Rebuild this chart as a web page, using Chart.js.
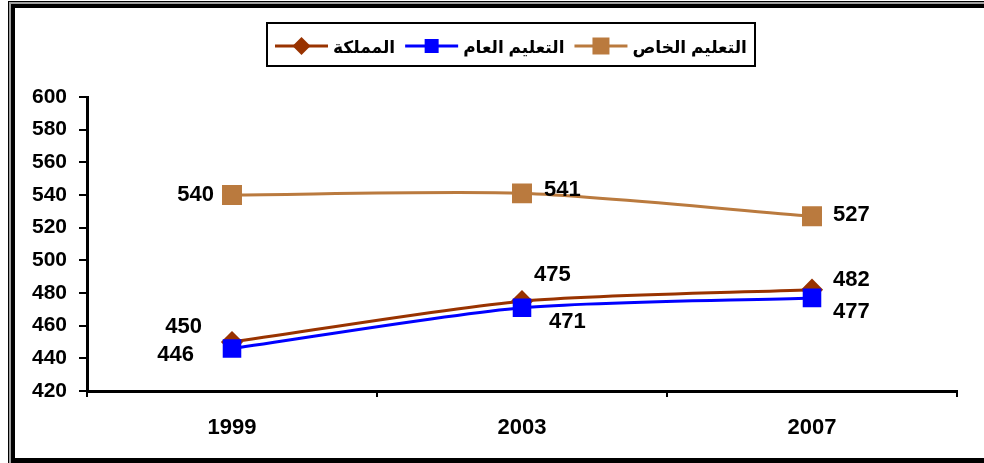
<!DOCTYPE html>
<html>
<head>
<meta charset="utf-8">
<script src="https://cdn.jsdelivr.net/npm/chart.js@4/dist/chart.umd.min.js"></script>
<style>
  html, body { margin: 0; padding: 0; background: #fff; }
  #wrap { width: 984px; height: 463px; position: relative; }
</style>
</head>
<body>
<div id="wrap"><canvas id="c" width="984" height="463"></canvas></div>
<script>
// data
const years = ['1999', '2003', '2007'];
const privateVals = [540, 541, 527];   // التعليم الخاص
const publicVals = [446, 471, 477];    // التعليم العام
const kingdomVals = [450, 475, 482];   // المملكة
const yMin = 420, yMax = 600, yStep = 20;

const FONT = '"Liberation Sans", "DejaVu Sans", Arial, sans-serif';

// frame round the picture
const framePlugin = {
  id: 'frame',
  beforeDraw(chart) {
    const ctx = chart.ctx;
    ctx.save();
    ctx.fillStyle = '#000'; ctx.fillRect(8, 1, 1000, 470);
    ctx.fillStyle = '#a0a0a0'; ctx.fillRect(9, 2, 1000, 470);
    ctx.fillStyle = '#000'; ctx.fillRect(11, 4, 1000, 470);
    ctx.fillStyle = '#fff'; ctx.fillRect(15, 8, 1000, 450);
    ctx.restore();
  }
};

// marker helper (legend)
function drawMarker(ctx, style, x, y, r, color) {
  ctx.fillStyle = color;
  ctx.beginPath();
  if (style === 'rectRot') {
    ctx.moveTo(x, y - r); ctx.lineTo(x + r, y); ctx.lineTo(x, y + r); ctx.lineTo(x - r, y);
  } else {
    ctx.rect(x - r, y - r, 2 * r, 2 * r);
  }
  ctx.closePath();
  ctx.fill();
}

// boxed legend, items laid right to left
const legendPlugin = {
  id: 'boxLegend',
  afterDraw(chart) {
    const ctx = chart.ctx;
    ctx.save();
    ctx.font = 'bold 17px ' + FONT;
    const lineW = 53, gapTxt = 5, gapItem = 10, pad = 8;
    const items = chart.data.datasets.map(ds => ({ ds, w: ctx.measureText(ds.label).width }));
    let total = pad * 2;
    items.forEach((it, i) => { total += it.w + gapTxt + lineW + (i < items.length - 1 ? gapItem : 0); });
    const cx = 511, top = 23, h = 43, cy = 46;
    const left = Math.round(cx - total / 2);
    ctx.strokeStyle = '#000'; ctx.lineWidth = 2;
    ctx.strokeRect(left, top, Math.round(total), h);
    let x = left + total - pad;
    ctx.textAlign = 'right'; ctx.textBaseline = 'middle';
    items.forEach(it => {
      ctx.fillStyle = '#000';
      ctx.fillText(it.ds.label, x, cy + 2);
      x -= it.w + gapTxt;
      ctx.strokeStyle = it.ds.borderColor; ctx.lineWidth = 3;
      ctx.beginPath(); ctx.moveTo(x, cy); ctx.lineTo(x - lineW, cy); ctx.stroke();
      const r = it.ds.pointStyle === 'rectRot' ? 9 : (it.ds.order === 0 ? 8.5 : 7);
      drawMarker(ctx, it.ds.pointStyle, x - lineW / 2, cy, r, it.ds.backgroundColor);
      x -= lineW + gapItem;
    });
    ctx.restore();
  }
};

// value labels next to each point
const valueLabels = {
  id: 'valueLabels',
  afterDatasetsDraw(chart) {
    const ctx = chart.ctx;
    ctx.save();
    ctx.font = 'bold 22px ' + FONT;
    ctx.fillStyle = '#000';
    ctx.textBaseline = 'middle';
    chart.data.datasets.forEach((ds, i) => {
      const meta = chart.getDatasetMeta(i);
      meta.data.forEach((pt, j) => {
        const [dx, dy, align] = ds.labelOffsets[j];
        ctx.textAlign = align;
        ctx.fillText(String(ds.data[j]), pt.x + dx, pt.y + dy);
      });
    });
    ctx.restore();
  }
};

new Chart(document.getElementById('c'), {
  type: 'line',
  data: {
    labels: years,
    datasets: [
      {
        label: 'التعليم الخاص',
        data: privateVals,
        borderColor: '#BA7A3E', backgroundColor: '#BA7A3E',
        borderWidth: 3, pointStyle: 'rect', pointRadius: 12, pointHoverRadius: 12,
        tension: 0.25, order: 0,
        labelOffsets: [[-18, 0, 'right'], [22, -3, 'left'], [21, -1, 'left']]
      },
      {
        label: 'التعليم العام',
        data: publicVals,
        borderColor: '#0000FF', backgroundColor: '#0000FF',
        borderWidth: 3, pointStyle: 'rect', pointRadius: 11, pointHoverRadius: 11,
        tension: 0.25, order: 1,
        labelOffsets: [[-38, 6, 'right'], [27, 14, 'left'], [21, 14, 'left']]
      },
      {
        label: 'المملكة',
        data: kingdomVals,
        borderColor: '#993300', backgroundColor: '#993300',
        borderWidth: 3, pointStyle: 'rectRot', pointRadius: 9, pointHoverRadius: 9,
        tension: 0.25, order: 2,
        labelOffsets: [[-30, -15, 'right'], [12, -26, 'left'], [21, -10, 'left']]
      }
    ]
  },
  options: {
    responsive: false,
    animation: false,
    layout: { padding: { left: 0, right: 27, top: 97, bottom: 0 } },
    plugins: { legend: { display: false }, tooltip: { enabled: false } },
    scales: {
      x: {
        offset: true,
        grid: { offset: true, drawOnChartArea: false, drawTicks: true, tickLength: 6, color: '#000', lineWidth: 2 },
        border: { display: true, color: '#000', width: 3 },
        ticks: { color: '#000', font: { family: FONT, size: 22, weight: 'bold' }, padding: 18 },
        afterFit(scale) { scale.height = 72; }
      },
      y: {
        min: yMin, max: yMax,
        grid: { drawOnChartArea: false, drawTicks: true, tickLength: 8, color: '#000', lineWidth: 2 },
        border: { display: true, color: '#000', width: 3 },
        ticks: { stepSize: yStep, color: '#000', font: { family: FONT, size: 21, weight: 'bold' }, padding: 12 },
        afterFit(scale) { scale.width = 87; }
      }
    }
  },
  plugins: [framePlugin, valueLabels, legendPlugin]
});
</script>
</body>
</html>
